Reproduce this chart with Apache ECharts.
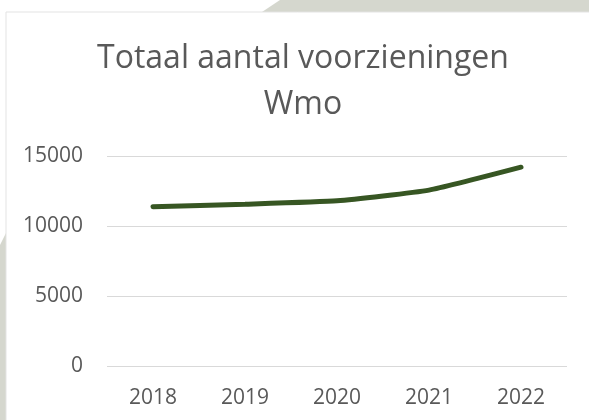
<!DOCTYPE html>
<html>
<head>
<meta charset="utf-8">
<script src="https://cdn.jsdelivr.net/npm/echarts@6/dist/echarts.min.js"></script>
<style>
  html, body { margin: 0; padding: 0; background: #ffffff; }
  #box { width: 589px; height: 420px; }
</style>
</head>
<body>
<div id="box"></div>
<script>
// data
var years = ['2018', '2019', '2020', '2021', '2022']
var totaal = [11380, 11560, 11800, 12560, 14200]
var yTicks = [0, 5000, 10000, 15000]

var MyChart = echarts.init(document.getElementById('box'))

var option = {
    backgroundColor: '#ffffff',
    title: {
        text: 'Totaal aantal voorzieningen\nWmo',
        left: 298,
        textAlign: 'center',
        top: 31,
        textStyle: {
            color: '#595959',
            fontSize: 32,
            fontWeight: 'normal',
            fontFamily: 'Open Sans',
            lineHeight: 46
        }
    },
    // slide decoration behind the chart box
    graphic: [{
        type: 'polygon',
        z: -10,
        shape: { points: [[262, 12], [280, 0], [589, 0], [589, 12]] },
        style: { fill: '#d5d7ce' }
    }, {
        type: 'polygon',
        z: -10,
        shape: { points: [[0, 245], [6, 233], [6, 420], [0, 420]] },
        style: { fill: '#d5d7ce' }
    }, {
        type: 'polyline',
        z: -5,
        shape: { points: [[6, 420], [6, 12], [589, 12]] },
        style: { stroke: '#e3e3e3', lineWidth: 1, fill: null }
    }],
    grid: {
        left: 107,
        right: 22,
        top: 156,
        bottom: 54
    },
    xAxis: {
        type: 'category',
        data: years,
        boundaryGap: true,
        axisLine: { show: false },
        axisTick: { show: false },
        axisLabel: {
            color: '#595959',
            fontSize: 21,
            fontFamily: 'Open Sans',
            margin: 22
        }
    },
    yAxis: {
        type: 'value',
        min: yTicks[0],
        max: yTicks[yTicks.length - 1],
        interval: 5000,
        axisLine: { show: false },
        axisTick: { show: false },
        axisLabel: {
            color: '#595959',
            fontSize: 21,
            fontFamily: 'Open Sans',
            margin: 24,
            formatter: function (v) { return String(v) }
        },
        splitLine: { lineStyle: { color: '#d9d9d9', width: 1 } }
    },
    series: [{
        name: 'Totaal',
        type: 'line',
        data: totaal,
        smooth: 0.15,
        symbol: 'none',
        lineStyle: { color: '#375623', width: 5, cap: 'round' }
    }]
}

MyChart.setOption(option)
</script>
</body>
</html>
